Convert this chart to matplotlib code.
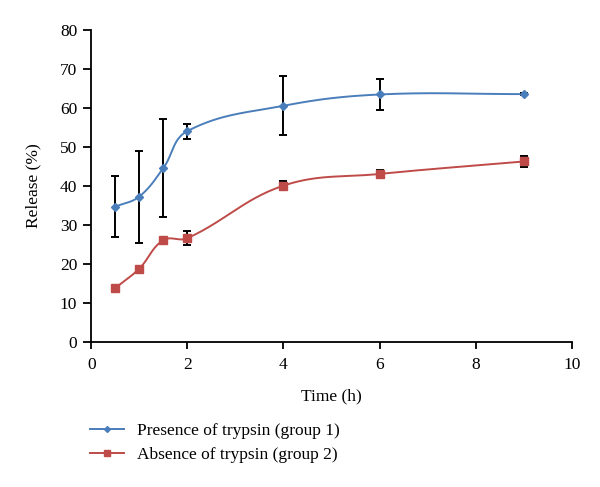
import numpy as np
import matplotlib
matplotlib.use("Agg")
import matplotlib.pyplot as plt
from matplotlib.lines import Line2D

plt.rcParams['font.family'] = ['Liberation Serif', 'DejaVu Serif']

time_h = [0.5, 1, 1.5, 2, 4, 6, 9]
presence = [34.7, 37.3, 44.6, 54.1, 60.6, 63.5, 63.6]
presence_err = [7.8, 11.8, 12.6, 1.9, 7.6, 4.0, 0.3]
absence = [13.8, 18.8, 26.1, 26.6, 40.1, 43.1, 46.3]
absence_err = [0.5, 0.5, 0.5, 1.8, 1.2, 0.9, 1.5]
labels = ["Presence of trypsin (group 1)", "Absence of trypsin (group 2)"]
blue = "#4a7ebb"
red = "#be4b48"

XS, YS = 48.1, 3.9  # approximate screen scale used only for curve smoothing


def smooth(xs, ys, k=0.38, n=50):
    P = np.column_stack([np.asarray(xs, float) * XS, np.asarray(ys, float) * YS])
    m = len(P)
    tang = []
    for i in range(m):
        a = P[max(i - 1, 0)]; b = P[min(i + 1, m - 1)]
        d = b - a
        tang.append(d / np.linalg.norm(d))
    ox, oy = [], []
    t = np.linspace(0, 1, n)[:, None]
    for i in range(m - 1):
        p0, p3 = P[i], P[i + 1]
        L = np.linalg.norm(p3 - p0)
        p1 = p0 + tang[i] * L * k
        p2 = p3 - tang[i + 1] * L * k
        b = (1 - t) ** 3 * p0 + 3 * (1 - t) ** 2 * t * p1 + 3 * (1 - t) * t ** 2 * p2 + t ** 3 * p3
        ox.extend(b[:, 0] / XS); oy.extend(b[:, 1] / YS)
    return np.array(ox), np.array(oy)


fig = plt.figure(figsize=(6, 4.87), dpi=100)
ax = fig.add_axes([0.152, 0.298, 0.801, 0.64])

for ys, err, col, mk, ms in [(presence, presence_err, blue, 'D', 4),
                             (absence, absence_err, red, 's', 5.5)]:
    sx, sy = smooth(time_h, ys)
    ax.plot(sx, sy, color=col, lw=1.4, zorder=2)
    ax.errorbar(time_h, ys, yerr=err, fmt='none', ecolor='black', elinewidth=1.4,
                capsize=3, capthick=1.4, zorder=3)
    ax.plot(time_h, ys, linestyle='none', marker=mk, color=col, ms=ms, zorder=4)

ax.set_xlim(0, 10)
ax.set_ylim(0, 80)
ax.set_xticks(range(0, 11, 2))
ax.set_yticks(range(0, 81, 10))
ax.spines['top'].set_visible(False)
ax.spines['right'].set_visible(False)
ax.spines['left'].set_linewidth(1.3)
ax.spines['bottom'].set_linewidth(1.3)
ax.tick_params(axis='both', direction='out', labelsize=12.5, width=1.3)
ax.tick_params(axis='y', length=6, pad=4)
ax.tick_params(axis='x', length=5, pad=6)
ax.set_xlabel("Time (h)", fontsize=12.5, labelpad=11)
ax.set_ylabel("Release (%)", fontsize=12.5, labelpad=13)

handles = [Line2D([], [], color=blue, marker='D', ms=3, lw=1.4),
           Line2D([], [], color=red, marker='s', ms=4, lw=1.4)]
fig.legend(handles, labels, loc='upper left', bbox_to_anchor=(0.138, 0.145),
           frameon=False, fontsize=12.5, handlelength=2.0, handletextpad=0.7,
           labelspacing=0.45, borderaxespad=0)

fig.savefig("out.png", dpi=100)
